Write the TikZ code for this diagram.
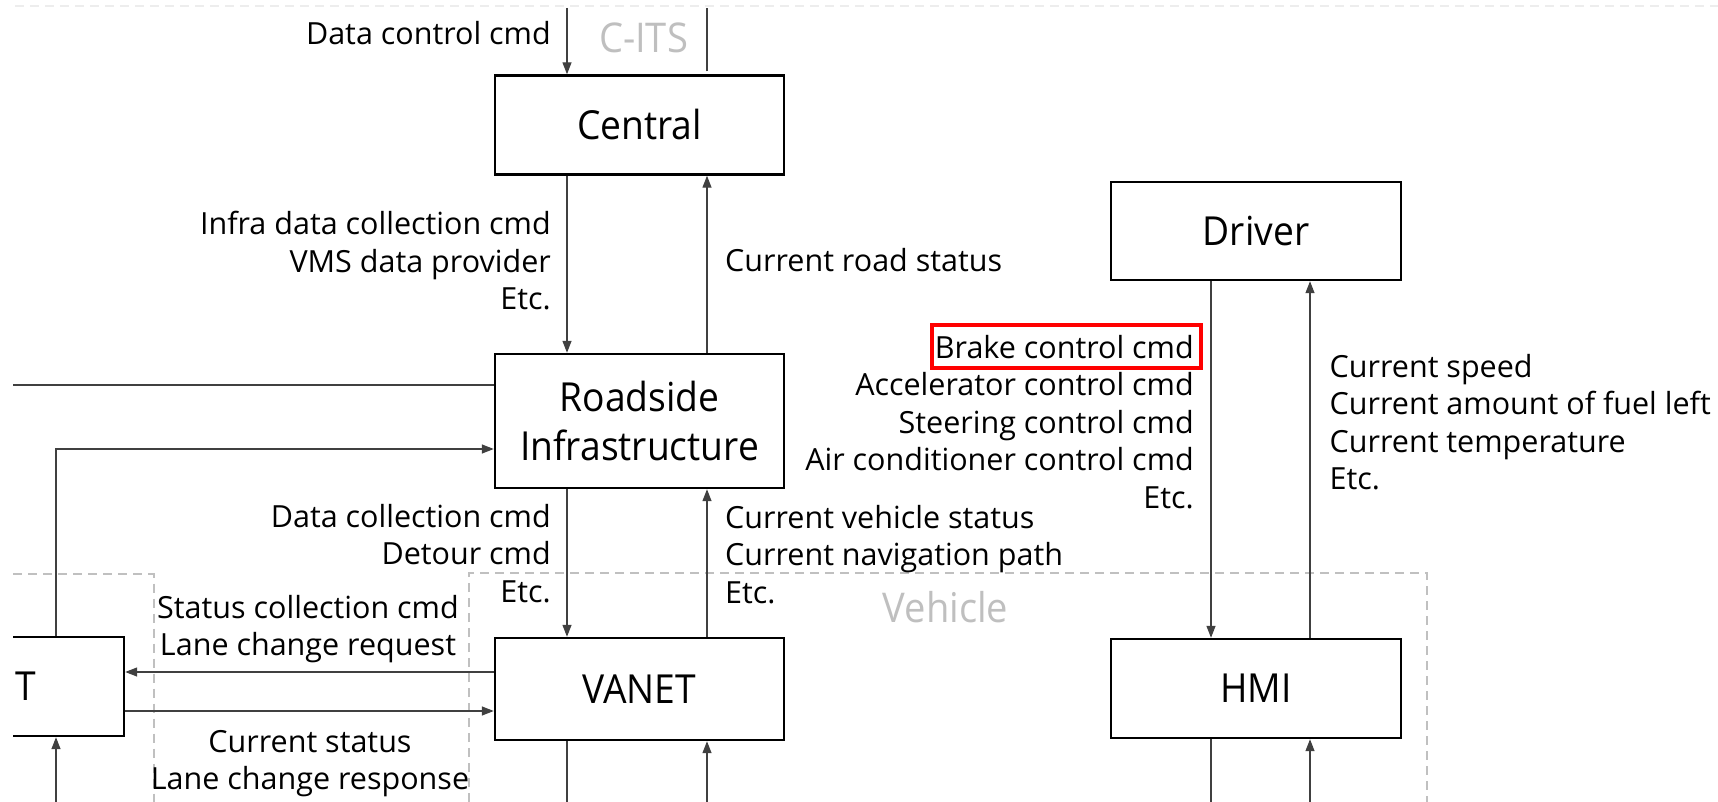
\documentclass[tikz,border=0pt]{standalone}
\usepackage{fontspec}
\setmainfont{Open Sans}
\newfontfamily\boxfont[FakeStretch=0.93]{Open Sans}
\usetikzlibrary{arrows.meta,calc}
\definecolor{lineclr}{HTML}{404040}
\definecolor{zoneclr}{HTML}{C0C0C0}
\definecolor{faintclr}{HTML}{EDEDED}
\definecolor{graytxt}{HTML}{BFBFBF}
\newcommand\rblock[1]{\begin{tabular}[t]{@{}r@{}}#1\end{tabular}}
\newcommand\lblock[1]{\begin{tabular}[t]{@{}l@{}}#1\end{tabular}}
\newcommand\cblock[1]{\begin{tabular}[t]{@{}c@{}}#1\end{tabular}}
\begin{document}
\begin{tikzpicture}[x=1pt,y=-1pt,
  box/.style={draw=black, fill=white, line width=2.4pt, minimum width=289pt, inner sep=0pt,
    font=\boxfont\fontsize{40}{48.5}\selectfont, align=center},
  lbl/.style={inner sep=0pt, font=\fontsize{30.5}{37.5}\selectfont},
  conn/.style={draw=lineclr, line width=1.3pt},
  arr/.style={conn, -{Triangle[length=12pt,width=9pt]}},
  zone/.style={draw=zoneclr, line width=2pt, dash pattern=on 9pt off 6pt},
  zonelbl/.style={inner sep=0pt, text=graytxt, font=\boxfont\fontsize{41}{48}\selectfont},
  redmark/.style={draw=red, line width=4pt}
]
\useasboundingbox (0,0) rectangle (1718,802);
\clip (13,0) rectangle (1718,802);

% zones
\draw[zone, draw=faintclr] (15,6) -- (1718,6);
\draw[zone] (13,574) -- (153.5,574) -- (153.5,802);
\draw[zone] (469,802) -- (469,573) -- (1427,573) -- (1427,802);
\node[zonelbl, anchor=base] (cits) at (643.5,53) {C-ITS};
\node[zonelbl, anchor=base] (vehicle) at (945.5,622) {Vehicle};

% boxes
\node[box, minimum height=99pt] (central) at (639.5,125) {Central};
\node[box, minimum height=134pt] (roadside) at (639.5,421) {Roadside\\Infrastructure};
\node[box, minimum height=102pt] (vanet) at (639.5,689) {VANET};
\node[box, minimum height=99pt] (leftbox) at (-20.5,686.5) {VANET};
\node[box, minimum height=98pt, minimum width=290pt] (driver) at (1256,231) {Driver};
\node[box, minimum height=99pt, minimum width=290pt] (hmi) at (1256,688.5) {HMI};

% lane coordinates
\coordinate (xL) at (567,0);
\coordinate (xR) at (707,0);
\coordinate (xD) at (1211,0);
\coordinate (xU) at (1310,0);
\coordinate (xV) at (56,0);
\coordinate (yTop) at (0,8);
\coordinate (yBot) at (0,802);
\coordinate (yA) at (0,449);
\coordinate (y1) at (0,672);
\coordinate (y2) at (0,711);
\coordinate (lfree) at (13,385);

% connectors
\draw[arr] (xL |- yTop) -- (xL |- central.north);
\draw[conn, shorten <=3pt] (xR |- central.north) -- (xR |- yTop);
\draw[arr] (xL |- central.south) -- (xL |- roadside.north);
\draw[arr] (xR |- roadside.north) -- (xR |- central.south);
\draw[conn] (lfree) -- (lfree -| roadside.west);
\draw[arr] (xV |- leftbox.north) -- (xV |- yA) -- (roadside.west |- yA);
\draw[arr] (xL |- roadside.south) -- (xL |- vanet.north);
\draw[arr] (xR |- vanet.north) -- (xR |- roadside.south);
\draw[arr] (vanet.west |- y1) -- (leftbox.east |- y1);
\draw[arr] (leftbox.east |- y2) -- (vanet.west |- y2);
\draw[arr] (xV |- yBot) -- (xV |- leftbox.south);
\draw[conn] (xL |- vanet.south) -- (xL |- yBot);
\draw[arr] (xR |- yBot) -- (xR |- vanet.south);
\draw[arr] (xD |- driver.south) -- (xD |- hmi.north);
\draw[arr] (xU |- hmi.north) -- (xU |- driver.south);
\draw[conn] (xD |- hmi.south) -- (xD |- yBot);
\draw[arr] (xU |- yBot) -- (xU |- hmi.south);

% labels
\node[lbl, anchor=base east] (dcc) at (551,45) {Data control cmd};
\node[lbl, anchor=base east] (infra) at (551,235) {\rblock{Infra data collection cmd\\VMS data provider\\Etc.}};
\node[lbl, anchor=base west] (road) at (725,272) {Current road status};
\node[lbl, anchor=base east] (dcoll) at (551,527) {\rblock{Data collection cmd\\Detour cmd\\Etc.}};
\node[lbl, anchor=base west] (vstat) at (725,528) {\lblock{Current vehicle status\\Current navigation path\\Etc.}};
\node[lbl, anchor=base east] (brake) at (1194,358) {Brake control cmd};
\node[lbl, anchor=base east] (accel) at (1194,395.5) {\rblock{Accelerator control cmd\\Steering control cmd\\Air conditioner control cmd\\Etc.}};
\node[lbl, anchor=base west] (speed) at (1329.5,377) {\lblock{Current speed\\Current amount of fuel left\\Current temperature\\Etc.}};
\node[lbl, anchor=base] (statcoll) at (308,618) {\cblock{Status collection cmd\\Lane change request}};
\node[lbl, anchor=base] (curstat) at (310,752) {\cblock{Current status\\Lane change response}};

% highlight
\draw[redmark] ($(brake.base west)+(-3,-33)$) rectangle ($(brake.base east)+(7,9.5)$);
\end{tikzpicture}
\end{document}
